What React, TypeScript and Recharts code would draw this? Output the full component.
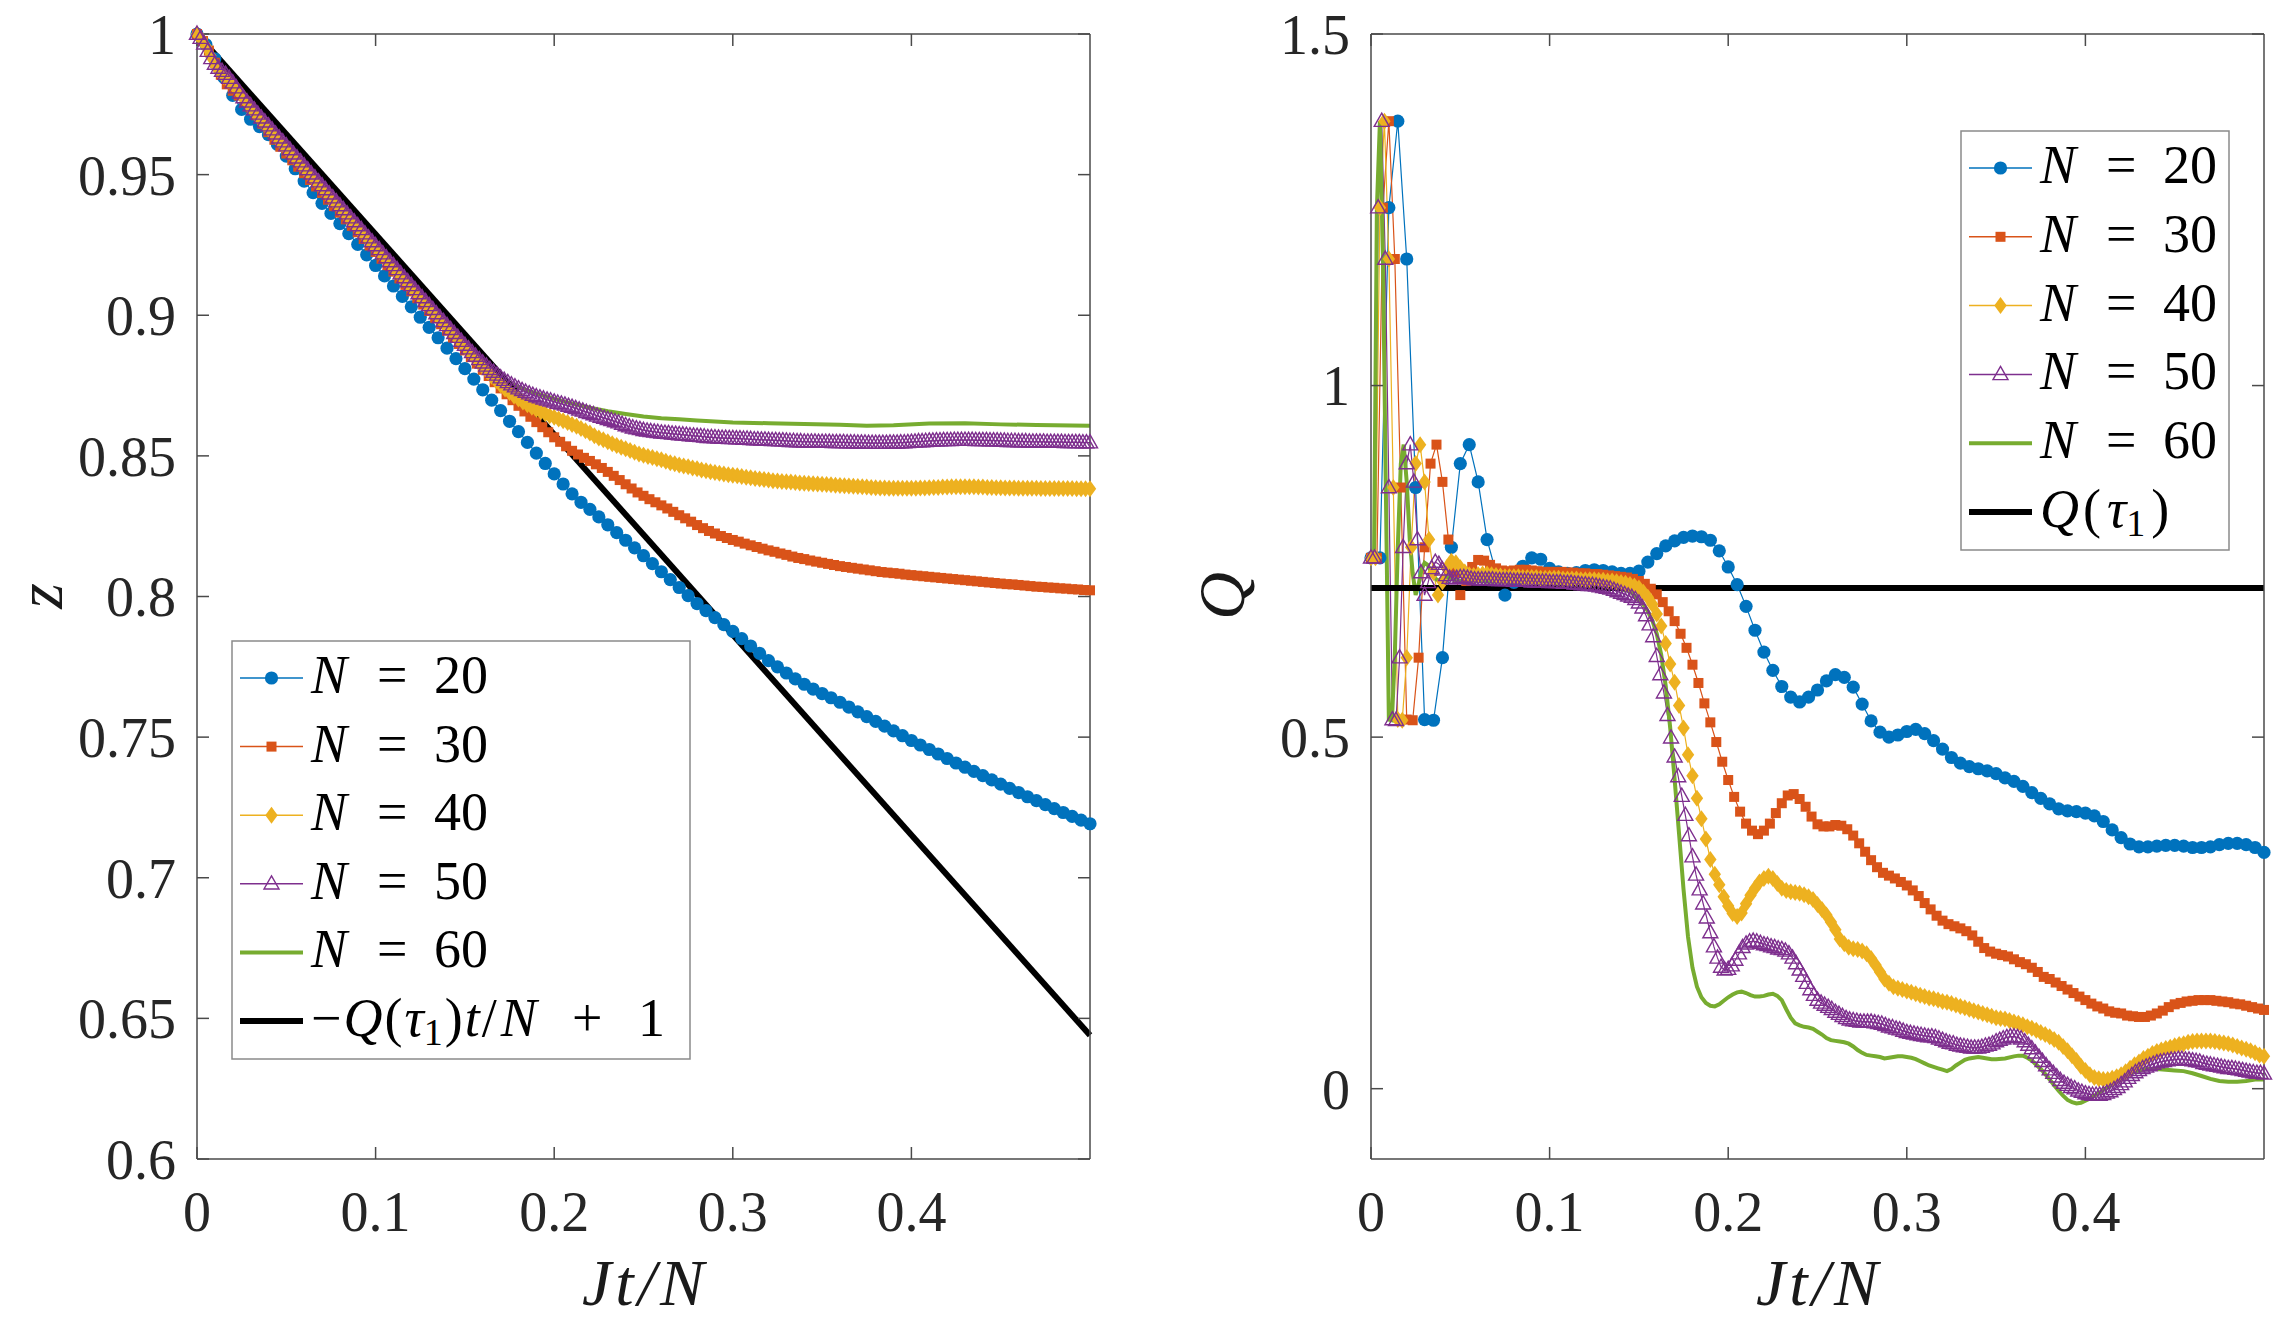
import React from 'react';
import { LineChart, Line, XAxis, YAxis } from 'recharts';

// MATLAB default colour order
const BLUE = '#0072BD';
const ORANGE = '#D95319';
const YELLOW = '#EDB120';
const PURPLE = '#7E2F8E';
const GREEN = '#77AC30';
const AXIS = '#4a4a4a';
const FONT = "'Liberation Serif', 'DejaVu Serif', 'Times New Roman', Times, serif";

const X_TICKS = [0, 0.1, 0.2, 0.3, 0.4];
const Z_TICKS = [0.6, 0.65, 0.7, 0.75, 0.8, 0.85, 0.9, 0.95, 1];
const Q_TICKS = [0, 0.5, 1, 1.5];
const N_LABELS = ['20', '30', '40', '50', '60'];

// sampling step in Jt/N for N = 20, 30, 40, 50
const STEP_N20 = 0.005;
const STEP_N30 = 1 / 300;
const STEP_N40 = 0.0025;
const STEP_N50 = 0.002;

const Q_TAU1 = 0.712;

// ---------- left panel: z ----------
const Z_N20 = [
  1.0, 0.9962, 0.9912, 0.9846, 0.9782, 0.9732, 0.9697, 0.9671, 0.9642, 0.9608,
  0.9566, 0.9521, 0.9477, 0.9436, 0.9398, 0.9362, 0.9326, 0.929, 0.9252, 0.9215,
  0.9177, 0.914, 0.9104, 0.9067, 0.903, 0.8993, 0.8957, 0.892, 0.8883, 0.8846,
  0.881, 0.8773, 0.8735, 0.8698, 0.8661, 0.8623, 0.8586, 0.8548, 0.851, 0.8473,
  0.8436, 0.84, 0.8365, 0.8335, 0.831, 0.8283, 0.8255, 0.8227, 0.82, 0.8173,
  0.8145, 0.8117, 0.8088, 0.806, 0.8032, 0.8003, 0.7975, 0.795, 0.7925, 0.79,
  0.7876, 0.785, 0.7824, 0.7798, 0.7772, 0.775, 0.7728, 0.7707, 0.7688, 0.7671,
  0.7655, 0.764, 0.7624, 0.7607, 0.759, 0.7573, 0.7556, 0.7539, 0.7522, 0.7505,
  0.7488, 0.7472, 0.7456, 0.744, 0.7424, 0.7408, 0.7393, 0.7378, 0.7363, 0.7348,
  0.7333, 0.7318, 0.7303, 0.7288, 0.7274, 0.726, 0.7246, 0.7232, 0.7218, 0.7205,
  0.7192,
];

const Z_N30 = [
  1.0, 0.9975, 0.9941, 0.9898, 0.9855, 0.9821, 0.9798, 0.9781, 0.9762, 0.9739,
  0.9711, 0.9681, 0.9651, 0.9624, 0.9599, 0.9575, 0.9551, 0.9528, 0.9505, 0.9481,
  0.9458, 0.9435, 0.9411, 0.9388, 0.9365, 0.9341, 0.9318, 0.9295, 0.9271, 0.9248,
  0.9225, 0.9201, 0.9178, 0.9155, 0.9131, 0.9108, 0.9085, 0.9061, 0.9038, 0.9015,
  0.8991, 0.8968, 0.8945, 0.8921, 0.8898, 0.8875, 0.8851, 0.8828, 0.8806, 0.8784,
  0.8762, 0.874, 0.8719, 0.8698, 0.8678, 0.8658, 0.8639, 0.862, 0.8602, 0.8584,
  0.8566, 0.855, 0.8534, 0.8518, 0.8505, 0.8493, 0.8482, 0.847, 0.8457, 0.8443,
  0.8429, 0.8414, 0.8399, 0.8384, 0.837, 0.8358, 0.8346, 0.8335, 0.8324, 0.8313,
  0.8301, 0.8289, 0.8278, 0.8266, 0.8254, 0.8243, 0.8233, 0.8224, 0.8215, 0.8208,
  0.8201, 0.8195, 0.8188, 0.8182, 0.8176, 0.817, 0.8164, 0.8159, 0.8153, 0.8148,
  0.8142, 0.8137, 0.8133, 0.8128, 0.8124, 0.812, 0.8116, 0.8112, 0.8108, 0.8105,
  0.8102, 0.8099, 0.8096, 0.8093, 0.809, 0.8087, 0.8085, 0.8083, 0.8081, 0.8078,
  0.8076, 0.8074, 0.8072, 0.807, 0.8068, 0.8066, 0.8064, 0.8062, 0.806, 0.8058,
  0.8056, 0.8054, 0.8052, 0.805, 0.8048, 0.8046, 0.8044, 0.8043, 0.8041, 0.8039,
  0.8037, 0.8035, 0.8034, 0.8032, 0.8031, 0.8029, 0.8028, 0.8026, 0.8025, 0.8023,
  0.8022,
];

const Z_N40 = [
  1.0, 0.9981, 0.9956, 0.9923, 0.9891, 0.9866, 0.9849, 0.9835, 0.9821, 0.9804,
  0.9783, 0.9761, 0.9738, 0.9718, 0.9699, 0.9681, 0.9663, 0.9646, 0.9628, 0.961,
  0.9593, 0.9575, 0.9558, 0.954, 0.9522, 0.9505, 0.9487, 0.9469, 0.9452, 0.9434,
  0.9417, 0.9399, 0.9381, 0.9364, 0.9346, 0.9328, 0.9311, 0.9293, 0.9276, 0.9258,
  0.924, 0.9223, 0.9205, 0.9187, 0.917, 0.9152, 0.9134, 0.9117, 0.9099, 0.9082,
  0.9064, 0.9046, 0.9029, 0.9011, 0.8993, 0.8976, 0.8958, 0.8941, 0.8923, 0.8905,
  0.8888, 0.887, 0.8852, 0.8835, 0.8817, 0.88, 0.8783, 0.8767, 0.8752, 0.8738,
  0.8725, 0.8713, 0.8702, 0.8692, 0.8682, 0.8673, 0.8665, 0.8657, 0.865, 0.8643,
  0.8637, 0.8631, 0.8625, 0.8619, 0.8612, 0.8605, 0.8597, 0.8589, 0.8581, 0.8572,
  0.8564, 0.8557, 0.855, 0.8543, 0.8537, 0.8531, 0.8525, 0.8519, 0.8513, 0.8507,
  0.8502, 0.8498, 0.8494, 0.849, 0.8486, 0.8481, 0.8476, 0.8472, 0.8468, 0.8464,
  0.8461, 0.8457, 0.8454, 0.845, 0.8447, 0.8444, 0.8441, 0.8438, 0.8436, 0.8433,
  0.8431, 0.8429, 0.8427, 0.8424, 0.8422, 0.842, 0.8418, 0.8416, 0.8414, 0.8412,
  0.8411, 0.8409, 0.8408, 0.8407, 0.8405, 0.8404, 0.8403, 0.8402, 0.8401, 0.84,
  0.8399, 0.8398, 0.8397, 0.8396, 0.8395, 0.8394, 0.8393, 0.8392, 0.8391, 0.839,
  0.8389, 0.8388, 0.8387, 0.8386, 0.8386, 0.8385, 0.8385, 0.8385, 0.8385, 0.8385,
  0.8385, 0.8385, 0.8386, 0.8386, 0.8387, 0.8388, 0.8388, 0.8389, 0.8389, 0.839,
  0.839, 0.839, 0.839, 0.839, 0.839, 0.8389, 0.8389, 0.8388, 0.8388, 0.8387,
  0.8387, 0.8386, 0.8386, 0.8386, 0.8385, 0.8385, 0.8385, 0.8385, 0.8385, 0.8384,
  0.8384, 0.8384, 0.8384, 0.8384, 0.8384, 0.8384, 0.8384, 0.8383, 0.8383, 0.8383,
  0.8383,
];

const Z_N50 = [
  1.0, 0.9985, 0.9965, 0.9939, 0.9913, 0.9893, 0.9879, 0.9868, 0.9857, 0.9843,
  0.9827, 0.9809, 0.9791, 0.9774, 0.9759, 0.9745, 0.9731, 0.9716, 0.9702, 0.9688,
  0.9674, 0.966, 0.9645, 0.9631, 0.9617, 0.9603, 0.9589, 0.9574, 0.956, 0.9546,
  0.9532, 0.9518, 0.9503, 0.9489, 0.9475, 0.9461, 0.9447, 0.9432, 0.9418, 0.9404,
  0.939, 0.9376, 0.9361, 0.9347, 0.9333, 0.9319, 0.9305, 0.929, 0.9276, 0.9262,
  0.9248, 0.9234, 0.9219, 0.9205, 0.9191, 0.9177, 0.9163, 0.9148, 0.9134, 0.912,
  0.9106, 0.9092, 0.9077, 0.9063, 0.9049, 0.9035, 0.9021, 0.9006, 0.8992, 0.8978,
  0.8964, 0.895, 0.8936, 0.8922, 0.8908, 0.8894, 0.8881, 0.8868, 0.8855, 0.8843,
  0.8831, 0.882, 0.8808, 0.8798, 0.8788, 0.8778, 0.8769, 0.8761, 0.8753, 0.8746,
  0.8739, 0.8733, 0.8727, 0.8721, 0.8716, 0.8711, 0.8707, 0.8703, 0.8699, 0.8696,
  0.8692, 0.8688, 0.8685, 0.8681, 0.8677, 0.8673, 0.8669, 0.8664, 0.866, 0.8655,
  0.8651, 0.8647, 0.8642, 0.8638, 0.8634, 0.863, 0.8626, 0.8622, 0.8618, 0.8613,
  0.8608, 0.8604, 0.86, 0.8597, 0.8594, 0.8591, 0.8589, 0.8587, 0.8585, 0.8584,
  0.8582, 0.8581, 0.858, 0.8578, 0.8577, 0.8576, 0.8575, 0.8574, 0.8572, 0.8571,
  0.857, 0.8569, 0.8568, 0.8566, 0.8566, 0.8565, 0.8564, 0.8563, 0.8563, 0.8562,
  0.8562, 0.8561, 0.8561, 0.856, 0.856, 0.8559, 0.8558, 0.8558, 0.8557, 0.8557,
  0.8556, 0.8555, 0.8555, 0.8554, 0.8554, 0.8553, 0.8552, 0.8552, 0.8551, 0.8551,
  0.855, 0.855, 0.855, 0.855, 0.8549, 0.8549, 0.8549, 0.8549, 0.8548, 0.8548,
  0.8548, 0.8548, 0.8547, 0.8547, 0.8547, 0.8546, 0.8546, 0.8546, 0.8545, 0.8545,
  0.8545, 0.8545, 0.8545, 0.8545, 0.8546, 0.8546, 0.8546, 0.8547, 0.8547, 0.8548,
  0.8549, 0.855, 0.8551, 0.8551, 0.8552, 0.8553, 0.8553, 0.8554, 0.8554, 0.8555,
  0.8555, 0.8555, 0.8556, 0.8556, 0.8556, 0.8556, 0.8556, 0.8556, 0.8555, 0.8555,
  0.8555, 0.8555, 0.8554, 0.8554, 0.8554, 0.8553, 0.8553, 0.8552, 0.8552, 0.8552,
  0.8551, 0.8551, 0.8551, 0.855, 0.855, 0.855, 0.855, 0.855, 0.8549, 0.8549,
  0.8549, 0.8549, 0.8549, 0.8548, 0.8548, 0.8548, 0.8548, 0.8548, 0.8547, 0.8547,
  0.8547,
];

// N = 60 is drawn as a plain line: [Jt/N, z]
const Z_N60 = [
  [0, 1], [0.005, 0.9949], [0.01, 0.9899], [0.015, 0.9869], [0.02, 0.9826], [0.025, 0.9787],
  [0.03, 0.9752], [0.04, 0.9681], [0.05, 0.961], [0.06, 0.9539], [0.07, 0.9467], [0.08, 0.9396],
  [0.09, 0.9325], [0.1, 0.9254], [0.11, 0.9183], [0.12, 0.9112], [0.13, 0.9041], [0.14, 0.897],
  [0.145, 0.8934], [0.15, 0.8899], [0.155, 0.8864], [0.16, 0.8831], [0.165, 0.8802], [0.17, 0.8778],
  [0.175, 0.876], [0.18, 0.8745], [0.185, 0.8733], [0.19, 0.8722], [0.2, 0.8703], [0.21, 0.8686],
  [0.22, 0.8671], [0.23, 0.8659], [0.24, 0.8649], [0.25, 0.864], [0.26, 0.8634], [0.27, 0.863],
  [0.28, 0.8626], [0.29, 0.8622], [0.3, 0.8619], [0.32, 0.8616], [0.34, 0.8613], [0.36, 0.8611],
  [0.375, 0.8607], [0.39, 0.8609], [0.41, 0.8615], [0.43, 0.8616], [0.45, 0.8612], [0.47, 0.861],
  [0.49, 0.8608], [0.5, 0.8607],
];

// -Q(tau1) t/N + 1
const LINE_T = [0, 0.5];
const LINE_Z = [1, 1 - Q_TAU1 * 0.5];

// ---------- right panel: Q ----------
const Q_N20 = [
  0.755, 0.755, 1.253, 1.376, 1.18, 0.855, 0.525, 0.524, 0.613, 0.77,
  0.889, 0.916, 0.863, 0.781, 0.734, 0.702, 0.72, 0.743, 0.755, 0.753,
  0.74, 0.735, 0.733, 0.734, 0.737, 0.738, 0.737, 0.735, 0.733, 0.733,
  0.736, 0.749, 0.761, 0.772, 0.779, 0.784, 0.786, 0.785, 0.78, 0.765,
  0.742, 0.717, 0.686, 0.652, 0.621, 0.595, 0.572, 0.557, 0.55, 0.557,
  0.567, 0.58, 0.589, 0.585, 0.571, 0.547, 0.523, 0.507, 0.5, 0.503,
  0.508, 0.511, 0.505, 0.495, 0.483, 0.471, 0.463, 0.458, 0.455, 0.452,
  0.448, 0.442, 0.437, 0.43, 0.421, 0.413, 0.405, 0.398, 0.395, 0.394,
  0.392, 0.388, 0.38, 0.368, 0.357, 0.348, 0.344, 0.344, 0.345, 0.346,
  0.346, 0.345, 0.343, 0.343, 0.344, 0.347, 0.349, 0.349, 0.347, 0.343,
  0.336,
];

const Q_N30 = [
  0.755, 0.755, 1.253, 1.376, 1.18, 0.855, 0.525, 0.524, 0.613, 0.77,
  0.889, 0.916, 0.863, 0.781, 0.734, 0.702, 0.722, 0.742, 0.752, 0.751,
  0.745, 0.74, 0.737, 0.736, 0.737, 0.738, 0.738, 0.737, 0.736, 0.735,
  0.735, 0.735, 0.735, 0.734, 0.734, 0.733, 0.733, 0.732, 0.732, 0.731,
  0.73, 0.729, 0.728, 0.727, 0.725, 0.722, 0.718, 0.711, 0.703, 0.692,
  0.679, 0.665, 0.647, 0.627, 0.603, 0.577, 0.548, 0.521, 0.493, 0.465,
  0.439, 0.415, 0.394, 0.377, 0.367, 0.362, 0.367, 0.377, 0.392, 0.406,
  0.417, 0.419, 0.412, 0.401, 0.387, 0.376, 0.373, 0.373, 0.375, 0.374,
  0.369, 0.36, 0.349, 0.337, 0.325, 0.315, 0.307, 0.303, 0.299, 0.294,
  0.289, 0.282, 0.274, 0.264, 0.255, 0.246, 0.239, 0.234, 0.231, 0.228,
  0.224, 0.218, 0.209, 0.2, 0.195, 0.192, 0.19, 0.188, 0.184, 0.18,
  0.177, 0.172, 0.166, 0.159, 0.156, 0.151, 0.146, 0.141, 0.136, 0.131,
  0.126, 0.121, 0.117, 0.114, 0.11, 0.108, 0.107, 0.104, 0.103, 0.102,
  0.102, 0.104, 0.107, 0.111, 0.116, 0.12, 0.122, 0.124, 0.125, 0.126,
  0.126, 0.126, 0.125, 0.124, 0.123, 0.121, 0.12, 0.118, 0.116, 0.114,
  0.112,
];

const Q_N40 = [
  0.755, 0.755, 1.253, 1.376, 1.18, 0.855, 0.525, 0.524, 0.613, 0.77,
  0.889, 0.916, 0.863, 0.781, 0.734, 0.702, 0.721, 0.741, 0.75, 0.748,
  0.741, 0.735, 0.731, 0.73, 0.731, 0.732, 0.732, 0.731, 0.73, 0.729,
  0.728, 0.728, 0.728, 0.728, 0.727, 0.727, 0.727, 0.727, 0.726, 0.726,
  0.726, 0.726, 0.726, 0.725, 0.725, 0.725, 0.725, 0.724, 0.724, 0.724,
  0.724, 0.723, 0.723, 0.722, 0.722, 0.721, 0.72, 0.719, 0.717, 0.715,
  0.712, 0.706, 0.699, 0.689, 0.675, 0.658, 0.633, 0.604, 0.578, 0.545,
  0.513, 0.475, 0.445, 0.413, 0.384, 0.355, 0.326, 0.305, 0.29, 0.273,
  0.26, 0.249, 0.245, 0.25, 0.263, 0.275, 0.285, 0.294, 0.299, 0.302,
  0.299, 0.292, 0.285, 0.282, 0.28, 0.279, 0.278, 0.276, 0.273, 0.269,
  0.262, 0.255, 0.247, 0.237, 0.226, 0.213, 0.206, 0.201, 0.199, 0.198,
  0.196, 0.192, 0.185, 0.176, 0.166, 0.156, 0.15, 0.145, 0.143, 0.141,
  0.139, 0.137, 0.135, 0.133, 0.131, 0.129, 0.128, 0.126, 0.124, 0.123,
  0.121, 0.119, 0.117, 0.115, 0.113, 0.111, 0.109, 0.107, 0.105, 0.103,
  0.101, 0.1, 0.099, 0.097, 0.095, 0.093, 0.091, 0.088, 0.086, 0.083,
  0.08, 0.077, 0.074, 0.07, 0.066, 0.06, 0.054, 0.047, 0.04, 0.032,
  0.026, 0.02, 0.016, 0.014, 0.013, 0.013, 0.015, 0.017, 0.02, 0.024,
  0.029, 0.034, 0.038, 0.043, 0.046, 0.05, 0.053, 0.055, 0.057, 0.059,
  0.061, 0.063, 0.064, 0.066, 0.067, 0.068, 0.068, 0.068, 0.068, 0.067,
  0.066, 0.065, 0.064, 0.062, 0.06, 0.058, 0.056, 0.054, 0.051, 0.048,
  0.046,
];

const Q_N50 = [
  0.755, 0.755, 1.253, 1.376, 1.18, 0.855, 0.525, 0.524, 0.613, 0.77,
  0.889, 0.916, 0.863, 0.781, 0.734, 0.702, 0.72, 0.74, 0.749, 0.746,
  0.738, 0.73, 0.726, 0.725, 0.726, 0.727, 0.727, 0.726, 0.725, 0.724,
  0.724, 0.724, 0.724, 0.724, 0.724, 0.723, 0.723, 0.723, 0.723, 0.723,
  0.722, 0.722, 0.722, 0.722, 0.722, 0.721, 0.721, 0.721, 0.721, 0.721,
  0.72, 0.72, 0.72, 0.72, 0.719, 0.719, 0.719, 0.718, 0.718, 0.717,
  0.717, 0.716, 0.716, 0.715, 0.714, 0.713, 0.712, 0.711, 0.709, 0.707,
  0.705, 0.703, 0.701, 0.699, 0.696, 0.691, 0.684, 0.673, 0.66, 0.643,
  0.615, 0.589, 0.563, 0.531, 0.499, 0.472, 0.444, 0.416, 0.389, 0.36,
  0.33, 0.304, 0.283, 0.263, 0.243, 0.222, 0.202, 0.186, 0.173, 0.169,
  0.17, 0.175, 0.183, 0.192, 0.201, 0.206, 0.209, 0.21, 0.209, 0.207,
  0.205, 0.204, 0.202, 0.201, 0.199, 0.198, 0.196, 0.192, 0.186, 0.178,
  0.169, 0.16, 0.15, 0.141, 0.133, 0.126, 0.122, 0.119, 0.116, 0.113,
  0.109, 0.106, 0.103, 0.1, 0.098, 0.097, 0.096, 0.095, 0.095, 0.095,
  0.095, 0.094, 0.093, 0.092, 0.09, 0.088, 0.087, 0.085, 0.084, 0.082,
  0.08, 0.079, 0.078, 0.077, 0.076, 0.075, 0.074, 0.074, 0.073, 0.071,
  0.069, 0.067, 0.065, 0.064, 0.062, 0.061, 0.06, 0.059, 0.058, 0.058,
  0.058, 0.059, 0.061, 0.062, 0.064, 0.067, 0.069, 0.071, 0.073, 0.074,
  0.074, 0.073, 0.071, 0.067, 0.062, 0.057, 0.051, 0.045, 0.039, 0.033,
  0.027, 0.022, 0.017, 0.012, 0.008, 0.005, 0.002, 0.0, -0.003, -0.005,
  -0.007, -0.008, -0.009, -0.009, -0.009, -0.008, -0.006, -0.004, -0.001, 0.002,
  0.006, 0.01, 0.015, 0.019, 0.023, 0.026, 0.029, 0.031, 0.033, 0.035,
  0.037, 0.038, 0.039, 0.04, 0.041, 0.041, 0.042, 0.042, 0.041, 0.041,
  0.04, 0.039, 0.038, 0.036, 0.035, 0.034, 0.033, 0.032, 0.031, 0.03,
  0.029, 0.029, 0.028, 0.027, 0.026, 0.025, 0.024, 0.023, 0.022, 0.022,
  0.021,
];

// [Jt/N, Q]
const Q_N60 = [
  [0, 0.755], [0.0017, 0.755], [0.0033, 1.253], [0.005, 1.376], [0.0067, 1.18], [0.0083, 0.855],
  [0.01, 0.525], [0.0117, 0.524], [0.0133, 0.613], [0.015, 0.77], [0.0167, 0.889], [0.0183, 0.916],
  [0.02, 0.863], [0.0217, 0.781], [0.0233, 0.734], [0.025, 0.702], [0.0267, 0.718], [0.0283, 0.738],
  [0.03, 0.748], [0.0317, 0.745], [0.0333, 0.737], [0.035, 0.729], [0.0367, 0.724], [0.0383, 0.723],
  [0.04, 0.725], [0.0417, 0.727], [0.0433, 0.727], [0.045, 0.725], [0.0467, 0.723], [0.0483, 0.722],
  [0.05, 0.722], [0.055, 0.722], [0.06, 0.722], [0.065, 0.721], [0.07, 0.721], [0.075, 0.721],
  [0.08, 0.72], [0.085, 0.72], [0.09, 0.72], [0.095, 0.719], [0.1, 0.719], [0.105, 0.718],
  [0.11, 0.718], [0.115, 0.717], [0.12, 0.716], [0.125, 0.715], [0.13, 0.714], [0.135, 0.712],
  [0.14, 0.71], [0.1425, 0.709], [0.145, 0.707], [0.1475, 0.702], [0.15, 0.695], [0.1525, 0.689],
  [0.155, 0.679], [0.1575, 0.666], [0.16, 0.647], [0.1625, 0.617], [0.165, 0.573], [0.1675, 0.514],
  [0.17, 0.44], [0.1725, 0.362], [0.175, 0.283], [0.1775, 0.216], [0.18, 0.172], [0.1825, 0.145],
  [0.185, 0.13], [0.1875, 0.122], [0.19, 0.118], [0.1925, 0.117], [0.195, 0.12], [0.1975, 0.125],
  [0.2, 0.13], [0.2025, 0.134], [0.205, 0.137], [0.2075, 0.138], [0.21, 0.136], [0.2125, 0.133],
  [0.215, 0.131], [0.2175, 0.131], [0.22, 0.132], [0.2225, 0.134], [0.225, 0.135], [0.2275, 0.132],
  [0.23, 0.126], [0.2325, 0.113], [0.235, 0.101], [0.2375, 0.093], [0.24, 0.09], [0.2425, 0.088],
  [0.245, 0.087], [0.2475, 0.085], [0.25, 0.081], [0.2525, 0.077], [0.255, 0.072], [0.2575, 0.069],
  [0.26, 0.068], [0.2625, 0.067], [0.265, 0.066], [0.2675, 0.064], [0.27, 0.06], [0.2725, 0.055],
  [0.275, 0.051], [0.2775, 0.048], [0.28, 0.047], [0.2825, 0.046], [0.285, 0.045], [0.2875, 0.043],
  [0.29, 0.044], [0.2925, 0.045], [0.295, 0.046], [0.2975, 0.046], [0.3, 0.045], [0.3025, 0.044],
  [0.305, 0.042], [0.3075, 0.039], [0.31, 0.036], [0.3125, 0.033], [0.315, 0.031], [0.3175, 0.029],
  [0.32, 0.027], [0.3225, 0.025], [0.325, 0.028], [0.3275, 0.033], [0.33, 0.037], [0.3325, 0.041],
  [0.335, 0.043], [0.3375, 0.044], [0.34, 0.045], [0.3425, 0.044], [0.345, 0.043], [0.3475, 0.042],
  [0.35, 0.042], [0.355, 0.043], [0.36, 0.046], [0.3625, 0.047], [0.365, 0.047], [0.3675, 0.044],
  [0.37, 0.04], [0.3725, 0.034], [0.375, 0.028], [0.3775, 0.021], [0.38, 0.013], [0.3825, 0.005],
  [0.385, -0.003], [0.3875, -0.01], [0.39, -0.016], [0.3925, -0.019], [0.395, -0.021], [0.3975, -0.02],
  [0.4, -0.017], [0.4025, -0.014], [0.405, -0.01], [0.4075, -0.006], [0.41, -0.002], [0.4125, 0.002],
  [0.415, 0.006], [0.4175, 0.01], [0.42, 0.014], [0.4225, 0.018], [0.425, 0.022], [0.43, 0.026],
  [0.435, 0.028], [0.44, 0.028], [0.445, 0.027], [0.45, 0.026], [0.455, 0.025], [0.46, 0.022],
  [0.465, 0.018], [0.47, 0.014], [0.475, 0.011], [0.48, 0.01], [0.485, 0.01], [0.49, 0.011],
  [0.495, 0.013], [0.5, 0.013],
];

const TAU_T = [0, 0.5];
const TAU_Q = [Q_TAU1, Q_TAU1];

const rows = (vals: number[], step: number) => vals.map((v, i) => ({ t: i * step, v }));
const pairs = (list: number[][]) => list.map(([t, v]) => ({ t, v }));
const zip = (ts: number[], vs: number[]) => ts.map((t, i) => ({ t, v: vs[i] }));

// ---------- markers ----------
const diamondPts = (x: number, y: number) => `${x},${y - 8.5} ${x + 6.2},${y} ${x},${y + 8.5} ${x - 6.2},${y}`;
const trianglePts = (x: number, y: number) => `${x},${y - 8} ${x + 7.5},${y + 5.2} ${x - 7.5},${y + 5.2}`;

const Marker = ({ kind, x, y }: { kind: string; x: number; y: number }) => {
  if (kind === 'o') return <circle cx={x} cy={y} r={6.6} fill={BLUE} />;
  if (kind === 's') return <rect x={x - 5} y={y - 5} width={10} height={10} fill={ORANGE} />;
  if (kind === 'd') return <polygon points={diamondPts(x, y)} fill={YELLOW} />;
  if (kind === '^') return <polygon points={trianglePts(x, y)} fill="none" stroke={PURPLE} strokeWidth={1.4} />;
  return null;
};

const dotOf = (kind: string) => (p: any) => {
  if (p.cx == null || p.cy == null) return <g key={`e-${p.index}`} />;
  return (
    <g key={`${kind}-${p.index}`}>
      <Marker kind={kind} x={p.cx} y={p.cy} />
    </g>
  );
};

const SERIES = [
  { kind: 'o', color: BLUE },
  { kind: 's', color: ORANGE },
  { kind: 'd', color: YELLOW },
  { kind: '^', color: PURPLE },
];

const tickFont = { fontSize: 56, fontFamily: FONT, fill: '#262626', style: { fontFamily: FONT } };
const axisStroke = { stroke: AXIS, strokeWidth: 1.5 };
const noLabel = () => '';

function Panel({ yDomain, yTicks, markerData, lineData, refData, leftMargin, rightMargin }: any) {
  return (
    <LineChart width={1140} height={1330} margin={{ top: 30, right: rightMargin, bottom: 71, left: leftMargin }}>
      <XAxis xAxisId="b" dataKey="t" type="number" domain={[0, 0.5]} ticks={X_TICKS} interval={0}
        tick={tickFont} tickSize={-12} tickMargin={44} axisLine={axisStroke} tickLine={axisStroke} height={100} />
      <XAxis xAxisId="top" orientation="top" dataKey="t" type="number" domain={[0, 0.5]} ticks={X_TICKS} interval={0}
        tickFormatter={noLabel} tickSize={-12} axisLine={axisStroke} tickLine={axisStroke} height={4} />
      <YAxis yAxisId="l" type="number" domain={yDomain} ticks={yTicks} interval={0}
        tick={tickFont} tickSize={-12} tickMargin={33} axisLine={axisStroke} tickLine={axisStroke} width={150} />
      <YAxis yAxisId="r" orientation="right" type="number" domain={yDomain} ticks={yTicks} interval={0}
        tickFormatter={noLabel} tickSize={-12} axisLine={axisStroke} tickLine={axisStroke} width={10} />
      {markerData.map((d: any, i: number) => (
        <Line key={SERIES[i].kind} xAxisId="b" yAxisId="l" data={d} dataKey="v" type="linear"
          stroke={SERIES[i].color} strokeWidth={1.2} dot={dotOf(SERIES[i].kind)} activeDot={false}
          isAnimationActive={false} />
      ))}
      <Line xAxisId="b" yAxisId="l" data={lineData} dataKey="v" type="linear" stroke={GREEN}
        strokeWidth={4} dot={false} activeDot={false} isAnimationActive={false} />
      <Line xAxisId="top" yAxisId="r" data={refData} dataKey="v" type="linear" stroke="#000"
        strokeWidth={6} dot={false} activeDot={false} isAnimationActive={false} />
    </LineChart>
  );
}

function LegendBox({ x, y, w, h, row0, step, lineX, textX, lastRow }: any) {
  const ink = { fontFamily: FONT, fontSize: 54, fill: '#000', style: { fontFamily: FONT } };
  const markerX = (lineX[0] + lineX[1]) / 2;
  return (
    <g>
      <rect x={x} y={y} width={w} height={h} fill="#fff" stroke="#8a8a8a" strokeWidth={1.5} />
      {N_LABELS.map((n, i) => {
        const ry = row0 + i * step;
        const s = SERIES[i];
        return (
          <g key={n}>
            <line x1={lineX[0]} x2={lineX[1]} y1={ry} y2={ry} stroke={s ? s.color : GREEN} strokeWidth={s ? 1.5 : 4} />
            {s && <Marker kind={s.kind} x={markerX} y={ry} />}
            <text {...ink} x={textX} y={ry + 15} fontStyle="italic">N</text>
            <text {...ink} x={textX + 66} y={ry + 15}>=</text>
            <text {...ink} x={textX + 123} y={ry + 15}>{n}</text>
          </g>
        );
      })}
      <line x1={lineX[0]} x2={lineX[1]} y1={row0 + 5 * step} y2={row0 + 5 * step} stroke="#000" strokeWidth={6} />
      {lastRow(row0 + 5 * step + 15, ink)}
    </g>
  );
}

const leftLast = (by: number, ink: any) => (
  <g>
    <text {...ink} x={311} y={by}>
      <tspan>−</tspan>
      <tspan fontStyle="italic" dx={2}>Q</tspan>
      <tspan dx={2}>(</tspan>
      <tspan fontStyle="italic" dx={2}>τ</tspan>
      <tspan fontSize={38} dy={9}>1</tspan>
      <tspan dy={-9} dx={2}>)</tspan>
      <tspan fontStyle="italic" dx={2}>t</tspan>
      <tspan dx={2}>/</tspan>
      <tspan fontStyle="italic" dx={4}>N</tspan>
    </text>
    <text {...ink} x={572} y={by}>+</text>
    <text {...ink} x={638} y={by}>1</text>
  </g>
);

const rightLast = (by: number, ink: any) => (
  <text {...ink} x={2040} y={by}>
    <tspan fontStyle="italic">Q</tspan>
    <tspan dx={4}>(</tspan>
    <tspan fontStyle="italic" dx={6}>τ</tspan>
    <tspan fontSize={38} dy={9}>1</tspan>
    <tspan dy={-9} dx={6}>)</tspan>
  </text>
);

export default function App() {
  const leftMarkers = [rows(Z_N20, STEP_N20), rows(Z_N30, STEP_N30), rows(Z_N40, STEP_N40), rows(Z_N50, STEP_N50)];
  const rightMarkers = [rows(Q_N20, STEP_N20), rows(Q_N30, STEP_N30), rows(Q_N40, STEP_N40), rows(Q_N50, STEP_N50)];
  const labelFont = { fontFamily: FONT, fontSize: 66, fontStyle: 'italic' as const, fill: '#1a1a1a', style: { fontFamily: FONT } };

  return (
    <div style={{ position: 'absolute', left: 0, top: 0, width: 2281, height: 1330, background: '#fff', overflow: 'hidden', fontFamily: FONT }}>
      <div style={{ position: 'absolute', left: 0, top: 0 }}>
        <Panel yDomain={[0.6, 1]} yTicks={Z_TICKS} markerData={leftMarkers} lineData={pairs(Z_N60)}
          refData={zip(LINE_T, LINE_Z)} leftMargin={47} rightMargin={40} />
      </div>
      <div style={{ position: 'absolute', left: 1141, top: 0 }}>
        <Panel yDomain={[-0.1, 1.5]} yTicks={Q_TICKS} markerData={rightMarkers} lineData={pairs(Q_N60)}
          refData={zip(TAU_T, TAU_Q)} leftMargin={80} rightMargin={7} />
      </div>
      <svg width={2281} height={1330} style={{ position: 'absolute', left: 0, top: 0, pointerEvents: 'none' }}>
        <text {...labelFont} x={62} y={596} textAnchor="middle" transform="rotate(-90 62 596)">z</text>
        <text {...labelFont} x={1244} y={596} textAnchor="middle" transform="rotate(-90 1244 596)">Q</text>
        <text {...labelFont} x={645} y={1305} textAnchor="middle" letterSpacing={4}>Jt/N</text>
        <text {...labelFont} x={1819} y={1305} textAnchor="middle" letterSpacing={4}>Jt/N</text>
        <LegendBox x={232} y={641} w={458} h={418} row0={678} step={68.6} lineX={[240, 303]} textX={311} lastRow={leftLast} />
        <LegendBox x={1961} y={131} w={268} h={419} row0={168} step={68.8} lineX={[1969, 2032]} textX={2040} lastRow={rightLast} />
      </svg>
    </div>
  );
}
